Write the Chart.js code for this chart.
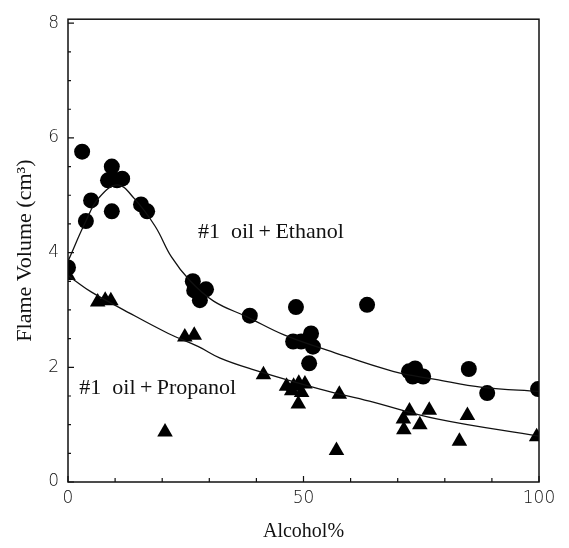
<!DOCTYPE html>
<html>
<head>
<meta charset="utf-8">
<script src="https://cdn.jsdelivr.net/npm/chart.js@4/dist/chart.umd.min.js"></script>
<style>
  body { margin: 0; background: #fff; }
  canvas { display: block; }
</style>
</head>
<body>
<canvas id="chart" width="569" height="548" style="width:569px;height:548px"></canvas>
<script>
// Measured points (Alcohol %, flame volume cm3)
const ethanolX = [0, 3, 3.8, 4.9, 8.5, 9.3, 9.3, 10.4, 11.5, 15.5, 16.8, 26.5, 26.8, 28, 29.3, 38.6, 48.4, 47.8, 49.5, 51.6, 52, 51.2, 63.5, 72.4, 73.7, 73.2, 75.4, 85.1, 89, 99.8];
const ethanolY = [3.74, 5.76, 4.55, 4.91, 5.26, 5.5, 4.72, 5.26, 5.29, 4.84, 4.72, 3.5, 3.34, 3.17, 3.36, 2.9, 3.05, 2.45, 2.45, 2.59, 2.36, 2.07, 3.09, 1.93, 1.98, 1.84, 1.84, 1.97, 1.55, 1.62];

const propanolX = [0, 6.3, 7.9, 9.1, 20.6, 24.8, 26.8, 41.5, 46.4, 47.9, 49, 50.3, 47.5, 49.6, 48.9, 57.6, 57, 71.2, 72.5, 71.3, 74.7, 76.7, 84.8, 83.1, 99.5];
const propanolY = [3.6, 3.14, 3.17, 3.16, 0.87, 2.53, 2.56, 1.87, 1.67, 1.67, 1.72, 1.71, 1.59, 1.56, 1.36, 1.53, 0.55, 1.1, 1.24, 0.91, 1.0, 1.25, 1.16, 0.71, 0.79];

// Fitted curves
const ethanolCurveX = [0, 3.8, 6.5, 10.5, 14, 18.5, 22, 26, 31, 38, 46, 55, 69, 78, 88, 100];
const ethanolCurveY = [3.85, 4.55, 4.95, 5.18, 4.95, 4.46, 3.92, 3.5, 3.15, 2.88, 2.56, 2.3, 1.93, 1.79, 1.65, 1.58];
const propanolCurveX = [0, 1.5, 5, 11.4, 21.3, 27.7, 32.3, 39.3, 53.5, 64, 78.3, 100];
const propanolCurveY = [3.6, 3.51, 3.31, 3.02, 2.59, 2.36, 2.16, 1.96, 1.62, 1.41, 1.1, 0.8];

const xTicks = [0, 50, 100];
const yTicks = [0, 2, 4, 6, 8];

const labels = [
    { text: '#1  oil\u2009+\u2009Ethanol', x: 27.6, y: 4.36 },
    { text: '#1  oil\u2009+\u2009Propanol', x: 2.4, y: 1.64 }
];

const zip = (xs, ys) => xs.map((x, i) => ({ x: x, y: ys[i] }));

// Frame, inward tick marks and text labels
const extras = {
    id: 'extras',
    afterDatasetsDraw(chart) {
        const { ctx, chartArea: a, scales } = chart;
        ctx.save();
        ctx.strokeStyle = '#111';
        ctx.lineWidth = 1.5;
        ctx.strokeRect(a.left, a.top, a.right - a.left, a.bottom - a.top);

        ctx.lineWidth = 1.2;
        ctx.beginPath();
        for (let v = 0; v <= 100; v += 10) {
            const px = scales.x.getPixelForValue(v);
            const len = v % 50 === 0 ? 6 : 4;
            ctx.moveTo(px, a.bottom);
            ctx.lineTo(px, a.bottom - len);
        }
        for (let v = 0; v <= 8; v += 0.5) {
            const py = scales.y.getPixelForValue(v);
            const len = v % 2 === 0 ? 6 : 3;
            ctx.moveTo(a.left, py);
            ctx.lineTo(a.left + len, py);
        }
        ctx.stroke();

        ctx.fillStyle = '#111';
        ctx.font = '22px "Liberation Serif", "DejaVu Serif", serif';
        ctx.textBaseline = 'middle';
        labels.forEach(l => {
            ctx.fillText(l.text, scales.x.getPixelForValue(l.x), scales.y.getPixelForValue(l.y));
        });
        ctx.restore();
    }
};

new Chart(document.getElementById('chart'), {
    type: 'scatter',
    data: {
        datasets: [
            {
                data: zip(ethanolCurveX, ethanolCurveY),
                showLine: true,
                pointRadius: 0,
                borderColor: '#111',
                borderWidth: 1.3,
                tension: 0.4
            },
            {
                data: zip(propanolCurveX, propanolCurveY),
                showLine: true,
                pointRadius: 0,
                borderColor: '#111',
                borderWidth: 1.3,
                tension: 0.4
            },
            {
                data: zip(ethanolX, ethanolY),
                pointStyle: 'circle',
                pointRadius: 8,
                backgroundColor: '#000',
                borderColor: '#000',
                borderWidth: 0
            },
            {
                data: zip(propanolX, propanolY),
                pointStyle: 'triangle',
                pointRadius: 9,
                backgroundColor: '#000',
                borderColor: '#000',
                borderWidth: 0
            }
        ]
    },
    options: {
        responsive: false,
        animation: false,
        layout: { padding: { top: 13, right: 30, left: 0, bottom: 0 } },
        plugins: { legend: { display: false }, tooltip: { enabled: false } },
        scales: {
            x: {
                type: 'linear',
                min: 0,
                max: 100,
                afterBuildTicks: axis => { axis.ticks = xTicks.map(v => ({ value: v })); },
                afterFit: scale => { scale.height = 66; },
                grid: { display: false, drawTicks: false },
                border: { display: false },
                ticks: {
                    padding: 6,
                    color: '#111',
                    font: { family: '"DejaVu Sans", sans-serif', size: 17, weight: '300' }
                },
                title: {
                    display: true,
                    text: 'Alcohol%',
                    color: '#111',
                    font: { family: '"Liberation Serif", "DejaVu Serif", serif', size: 20 },
                    padding: { top: 0, bottom: 4 }
                }
            },
            y: {
                type: 'linear',
                min: 0,
                max: 8.07,
                afterBuildTicks: axis => { axis.ticks = yTicks.map(v => ({ value: v })); },
                afterFit: scale => { scale.width = 68; },
                grid: { display: false, drawTicks: false },
                border: { display: false },
                ticks: {
                    padding: 9,
                    color: '#111',
                    font: { family: '"DejaVu Sans", sans-serif', size: 17, weight: '300' }
                },
                title: {
                    display: true,
                    text: 'Flame Volume (cm³)',
                    color: '#111',
                    font: { family: '"Liberation Serif", "DejaVu Serif", serif', size: 22 },
                    padding: { top: 12, bottom: 0 }
                }
            }
        }
    },
    plugins: [extras]
});
</script>
</body>
</html>
